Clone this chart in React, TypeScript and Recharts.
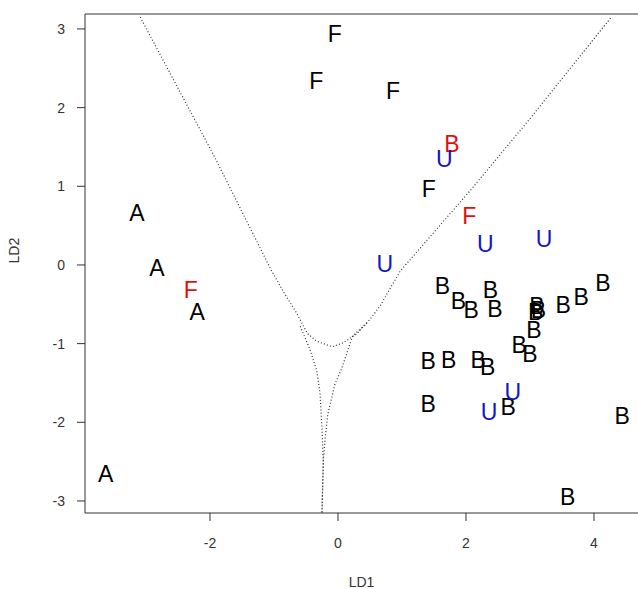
import { ScatterChart, Scatter, XAxis, YAxis, ReferenceLine } from 'recharts';

// observed group of each specimen, and whether LDA classified it wrong / unknown
const labels = [
  'A', 'A', 'F', 'A', 'A',
  'F', 'F', 'F', 'B', 'U', 'F', 'F', 'U', 'U', 'U',
  'B', 'B', 'B', 'B', 'B', 'B', 'B', 'B', 'B', 'B', 'B',
  'B', 'B', 'B', 'B', 'B', 'B', 'B', 'B', 'B', 'B', 'B',
  'U', 'U',
];
const kinds = [
  'ok', 'ok', 'miss', 'ok', 'ok',
  'ok', 'ok', 'ok', 'miss', 'unk', 'ok', 'miss', 'unk', 'unk', 'unk',
  'ok', 'ok', 'ok', 'ok', 'ok', 'ok', 'ok', 'ok', 'ok', 'ok', 'ok',
  'ok', 'ok', 'ok', 'ok', 'ok', 'ok', 'ok', 'ok', 'ok', 'ok', 'ok',
  'unk', 'unk',
];
const ld1 = [
  -3.14, -2.83, -2.3, -2.2, -3.63,
  -0.05, -0.34, 0.86, 1.78, 1.66, 1.42, 2.05, 2.3, 3.22, 0.73,
  1.63, 1.88, 2.08, 2.38, 2.45, 3.11, 3.09, 3.13, 3.52, 3.8, 4.14,
  3.06, 2.83, 3.0, 1.41, 1.73, 2.19, 2.34, 1.41, 2.66, 4.44, 3.59,
  2.36, 2.73,
];
const ld2 = [
  0.66, -0.04, -0.31, -0.59, -2.65,
  2.94, 2.34, 2.22, 1.54, 1.35, 0.97, 0.62, 0.27, 0.33, 0.01,
  -0.27, -0.46, -0.57, -0.31, -0.55, -0.52, -0.6, -0.57, -0.51, -0.41, -0.22,
  -0.82, -1.02, -1.13, -1.22, -1.21, -1.2, -1.29, -1.76, -1.8, -1.92, -2.94,
  -1.87, -1.61,
];

// decision boundaries
const vX = [-3.09, -1.92, -1.06, -0.86, -0.64, -0.48, -0.33, -0.09, 0.08, 0.3, 0.5, 0.66, 0.73, 0.97, 2.06, 2.97, 4.27];
const vY = [3.15, 1.36, -0.04, -0.33, -0.62, -0.87, -0.97, -1.04, -0.99, -0.87, -0.69, -0.52, -0.42, -0.08, 0.94, 1.83, 3.15];
const leftX = [-0.59, -0.44, -0.33, -0.28, -0.25, -0.23, -0.25];
const leftY = [-0.78, -1.07, -1.35, -1.64, -2.08, -2.5, -3.15];
const rightX = [0.45, 0.23, 0.06, -0.05, -0.16, -0.2, -0.23, -0.25];
const rightY = [-0.74, -0.9, -1.31, -1.52, -1.9, -2.2, -2.5, -3.15];

const xTicks = [-2, 0, 2, 4];
const yTicks = [-3, -2, -1, 0, 1, 2, 3];

const X_MIN = -3.953;
const X_MAX = 4.6875;
const Y_MIN = -3.153;
const Y_MAX = 3.19;

const COLORS: Record<string, string> = { ok: '#000000', miss: '#e01010', unk: '#1414c0' };
const FONT = 'Liberation Sans, Arial, sans-serif';

const points = labels.map((label, i) => ({ label, kind: kinds[i], x: ld1[i], y: ld2[i] }));
const toCurve = (xs: number[], ys: number[]) => xs.map((x, i) => ({ x, y: ys[i] }));
const curves = [toCurve(vX, vY), toCurve(leftX, leftY), toCurve(rightX, rightY)];

const dotted = { stroke: '#333', strokeWidth: 1.2, strokeDasharray: '1 2.2' };
const axisStyle = { fontSize: 14, fill: '#333', fontFamily: FONT };

function Letter(props: any) {
  const { cx, cy, payload } = props;
  return (
    <text
      x={cx}
      y={cy}
      dy="0.36em"
      textAnchor="middle"
      fontSize={23}
      fontFamily={FONT}
      fill={COLORS[payload.kind]}
    >
      {payload.label}
    </text>
  );
}

export default function App() {
  return (
    <div style={{ position: 'fixed', left: 0, top: 0, background: '#fff' }}>
      <ScatterChart width={638} height={589} margin={{ top: 14, right: 0, bottom: 0, left: 0 }}>
        <XAxis
          type="number"
          dataKey="x"
          domain={[X_MIN, X_MAX]}
          ticks={xTicks}
          allowDataOverflow
          height={76}
          tickSize={8}
          tickMargin={17}
          tick={axisStyle}
          stroke="#333"
          label={{ value: 'LD1', position: 'insideBottom', offset: 2, ...axisStyle }}
        />
        <YAxis
          type="number"
          dataKey="y"
          domain={[Y_MIN, Y_MAX]}
          ticks={yTicks}
          allowDataOverflow
          width={85}
          tickSize={8}
          tickMargin={12}
          tick={axisStyle}
          stroke="#333"
          label={{ value: 'LD2', angle: -90, position: 'insideLeft', offset: 14, ...axisStyle }}
        />
        <ReferenceLine y={Y_MAX} stroke="#333" />
        {curves.map((c, i) => (
          <Scatter
            key={i}
            data={c}
            line={dotted}
            lineType="joint"
            shape={() => <g />}
            isAnimationActive={false}
          />
        ))}
        <Scatter data={points} shape={Letter} isAnimationActive={false} />
      </ScatterChart>
    </div>
  );
}
